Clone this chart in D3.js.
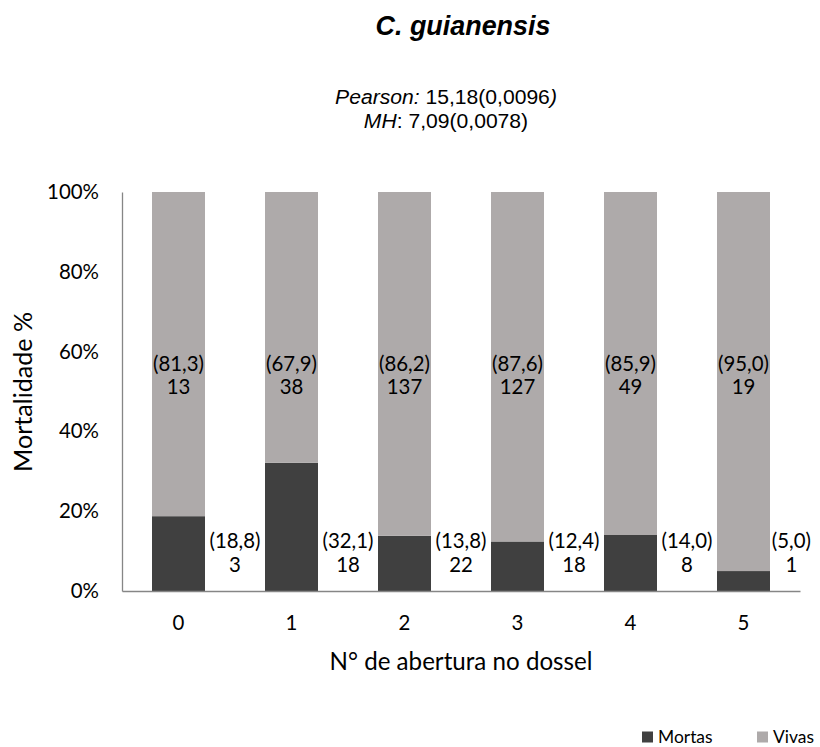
<!DOCTYPE html>
<html><head><meta charset="utf-8">
<script src="https://cdn.jsdelivr.net/npm/d3@7"></script>
<style>body{margin:0;background:#fff} svg{display:block}</style>
</head><body>
<script>
// ---- data ----
const categories = ["0","1","2","3","4","5"];
const seriesNames = ["Mortas","Vivas"];
const mortas = [3,18,22,18,8,1];
const vivas = [13,38,137,127,49,19];
const mortasPct = ["18,8","32,1","13,8","12,4","14,0","5,0"];
const vivasPct = ["81,3","67,9","86,2","87,6","85,9","95,0"];
const yTicks = [0,0.2,0.4,0.6,0.8,1];
const titleText = "C. guianensis";
const xTitle = "N° de abertura no dossel";
const yTitle = "Mortalidade %";

const colors = {Mortas:"#404040", Vivas:"#AEAAAA"};
const W = 820, H = 747;
const FONT = "Lato, 'Open Sans', sans-serif";
const AFONT = "'Liberation Sans', Arial, sans-serif";

const svg = d3.select("body").append("svg").attr("width", W).attr("height", H);

function fitSize(text, family, weight, style, target) {
  const t = svg.append("text").attr("font-family", family).attr("font-weight", weight)
    .attr("font-style", style).attr("font-size", 100).text(text);
  const len = t.node().getComputedTextLength();
  t.remove();
  return 100 * target / len;
}

const tickSize = fitSize("100%", FONT, "normal", "normal", 52);
const labelSize = fitSize("(81,3)", FONT, "normal", "normal", 51);
const xTitleSize = fitSize(xTitle, FONT, "normal", "normal", 263);
const yTitleSize = fitSize(yTitle, FONT, "normal", "normal", 160);
const legendSize = fitSize("Vivas", FONT, "normal", "normal", 41);
const titleSize = fitSize(titleText, AFONT, "bold", "italic", 175);
const subSize = fitSize("Pearson: 15,18(0,0096)", AFONT, "normal", "normal", 222);

const table = categories.map((c, i) => ({cat: c, Mortas: mortas[i], Vivas: vivas[i]}));
const stacked = d3.stack().keys(seriesNames).offset(d3.stackOffsetExpand)(table);

const x = d3.scaleBand().domain(categories).range([122, 800]).paddingInner(0.531).paddingOuter(0.2655);
const y = d3.scaleLinear().domain([0, 1]).range([591, 192]);

// bars
svg.append("g").selectAll("g").data(stacked).join("g")
  .attr("fill", d => colors[d.key])
  .selectAll("rect").data(d => d).join("rect")
  .attr("x", d => x(d.data.cat))
  .attr("width", x.bandwidth())
  .attr("y", d => y(d[1]))
  .attr("height", d => y(d[0]) - y(d[1]));

// axes
const yAxis = svg.append("g").attr("transform", "translate(122,0)")
  .call(d3.axisLeft(y).tickValues(yTicks).tickFormat(d3.format(".0%")).tickSize(0).tickSizeOuter(0).tickPadding(23));
yAxis.select(".domain").attr("stroke", "#868686").attr("stroke-width", 1.3);
yAxis.selectAll("text").attr("font-family", FONT).attr("font-size", tickSize).attr("fill", "#000");

const xAxis = svg.append("g").attr("transform", "translate(0,591)")
  .call(d3.axisBottom(x).tickSize(0).tickSizeOuter(0).tickPadding(0));
xAxis.select(".domain").attr("stroke", "#868686").attr("stroke-width", 1.3);
xAxis.selectAll("text").attr("font-family", FONT).attr("font-size", tickSize).attr("fill", "#000")
  .attr("y", 32).attr("dy", "0.35em");

// labels
const lab = svg.append("g").attr("font-family", FONT).attr("font-size", labelSize).attr("fill", "#000").attr("text-anchor", "middle");
categories.forEach((c, i) => {
  const cx = x(c) + x.bandwidth() / 2;
  const g1 = lab.append("text").attr("x", cx).attr("y", y(0.57)).attr("dy", "0.35em");
  g1.append("tspan").attr("x", cx).text("(" + vivasPct[i] + ")");
  g1.append("tspan").attr("x", cx).attr("dy", 23).text(vivas[i]);
  let mx = x(c) + x.bandwidth() + x.step() * x.paddingInner() / 2;
  const g2 = lab.append("text").attr("y", y(0.125)).attr("dy", "0.35em");
  const t1 = g2.append("tspan").attr("x", mx).text("(" + mortasPct[i] + ")");
  const t2 = g2.append("tspan").attr("x", mx).attr("dy", 24).text(mortas[i]);
  const w = g2.node().getBBox().width;
  if (mx + w / 2 > 811) { mx = 811 - w / 2; t1.attr("x", mx); t2.attr("x", mx); }
});

// titles
svg.append("text").attr("x", 463).attr("y", 35).attr("text-anchor", "middle")
  .attr("font-family", AFONT).attr("font-weight", "bold").attr("font-style", "italic")
  .attr("font-size", titleSize).attr("fill", "#000").text(titleText);

const s1 = svg.append("text").attr("x", 446).attr("y", 104).attr("text-anchor", "middle")
  .attr("font-family", AFONT).attr("font-size", subSize).attr("fill", "#000");
s1.append("tspan").attr("font-style", "italic").text("Pearson:");
s1.append("tspan").text(" 15,18(0,0096");
s1.append("tspan").attr("font-style", "italic").text(")");
const s2 = svg.append("text").attr("x", 446).attr("y", 128).attr("text-anchor", "middle")
  .attr("font-family", AFONT).attr("font-size", subSize).attr("fill", "#000");
s2.append("tspan").attr("font-style", "italic").text("MH");
s2.append("tspan").text(": 7,09(0,0078)");

svg.append("text").attr("x", 461).attr("y", 662).attr("dy", "0.35em").attr("text-anchor", "middle")
  .attr("font-family", FONT).attr("font-size", xTitleSize).attr("fill", "#000").text(xTitle);

svg.append("text").attr("transform", "translate(32,392) rotate(-90)").attr("text-anchor", "middle")
  .attr("font-family", FONT).attr("font-size", yTitleSize).attr("fill", "#000").text(yTitle);

// legend
const legX = [642, 757];
const leg = svg.append("g");
seriesNames.forEach((n, i) => {
  leg.append("rect").attr("x", legX[i]).attr("y", 731.5).attr("width", 11).attr("height", 11).attr("fill", colors[n]);
  leg.append("text").attr("x", legX[i] + 16).attr("y", 737).attr("dy", "0.35em")
    .attr("font-family", FONT).attr("font-size", legendSize).attr("fill", "#000").text(n);
});
</script>
</body></html>
